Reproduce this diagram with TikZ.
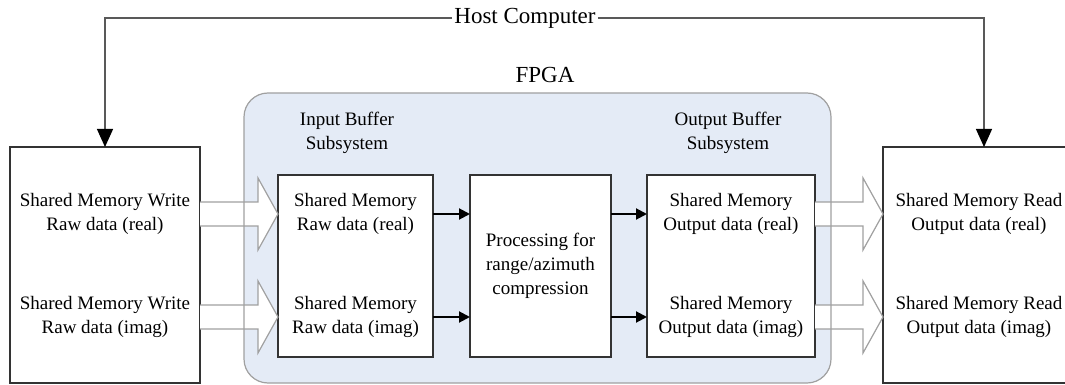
\documentclass[tikz,border=0pt]{standalone}
\usepackage{fontspec}
\setmainfont{Liberation Serif}
\usetikzlibrary{positioning, arrows.meta, calc}

\definecolor{fpgablue}{RGB}{228,235,246}
\definecolor{edgegray}{RGB}{160,160,160}

\tikzset{
  box/.style={draw=black!80, line width=1.5pt, fill=white, inner sep=0pt, outer sep=0pt},
  lbl/.style={align=center, font=\fontsize{19}{24}\selectfont, inner sep=0pt},
  biglbl/.style={font=\fontsize{23}{28}\selectfont, inner sep=2pt},
  flow/.style={line width=2pt, -{Triangle[length=11pt,width=11pt]}},
  hostline/.style={draw=black!65, line width=1.2pt, -{Triangle[length=18pt,width=16pt,color=black]}},
  hollow/.style={draw=edgegray, line width=1.2pt, fill=white},
}

% wide open arrow from the east side of #1 to the west side of #2, at the height of #3
\newcommand{\fatarrow}[3]{%
  \path (#1.east |- #3) coordinate (fa-s) (#2.west |- #3) coordinate (fa-e);
  \draw[hollow] ($(fa-s)+(0,-12)$) -- ($(fa-e)+(-20,-12)$) -- ($(fa-e)+(-20,-36)$)
    -- (fa-e) -- ($(fa-e)+(-20,36)$) -- ($(fa-e)+(-20,12)$) -- ($(fa-s)+(0,12)$);
}

\begin{document}
\begin{tikzpicture}[x=1pt, y=-1pt]
\useasboundingbox (0,0) rectangle (1065,385);

% FPGA area
\fill[fpgablue, rounded corners=24pt] (244,93) rectangle (831,383);
\node[biglbl] (fpga) at (545,75) {FPGA};
\node[lbl] (inbuf) at (347,133) {Input Buffer\\Subsystem};
\node[lbl] (outbuf) at (728,133) {Output Buffer\\Subsystem};

\coordinate (row1) at (0,214);
\coordinate (row2) at (0,317);

% blocks
\node[box, minimum width=190pt, minimum height=236pt] (wbox) at (105,265) {};
\node[box, minimum width=192pt, minimum height=236pt] (rbox) at (979,265) {};
\node[box, minimum width=155pt, minimum height=182pt] (inmem) at (355.5,266) {};
\node[box, lbl, minimum width=141pt, minimum height=182pt] (proc) at (540.5,266) {Processing for\\range/azimuth\\compression};
\node[box, minimum width=168pt, minimum height=182pt] (outmem) at (731,266) {};

\node[lbl] (wre) at (wbox |- row1) {Shared Memory Write\\Raw data (real)};
\node[lbl] (wim) at (wbox |- row2) {Shared Memory Write\\Raw data (imag)};
\node[lbl] (ire) at (inmem |- row1) {Shared Memory\\Raw data (real)};
\node[lbl] (iim) at (inmem |- row2) {Shared Memory\\Raw data (imag)};
\node[lbl] (ore) at (outmem |- row1) {Shared Memory\\Output data (real)};
\node[lbl] (oim) at (outmem |- row2) {Shared Memory\\Output data (imag)};
\node[lbl] (rre) at (rbox |- row1) {Shared Memory Read\\Output data (real)};
\node[lbl] (rim) at (rbox |- row2) {Shared Memory Read\\Output data (imag)};

% data paths
\fatarrow{wbox}{inmem}{row1}
\fatarrow{wbox}{inmem}{row2}
\fatarrow{outmem}{rbox}{row1}
\fatarrow{outmem}{rbox}{row2}

\draw[flow] (inmem.east |- row1) -- (proc.west |- row1);
\draw[flow] (inmem.east |- row2) -- (proc.west |- row2);
\draw[flow] (proc.east |- row1) -- (outmem.west |- row1);
\draw[flow] (proc.east |- row2) -- (outmem.west |- row2);

\draw[edgegray, line width=1.2pt, rounded corners=24pt] (244,93) rectangle (831,383);

% host link
\node[biglbl] (host) at (525,18) {Host Computer};
\draw[hostline] (host.west) -| (wbox.north);
\draw[hostline] (host.east) -| ([xshift=5pt]rbox.north);
\end{tikzpicture}
\end{document}
